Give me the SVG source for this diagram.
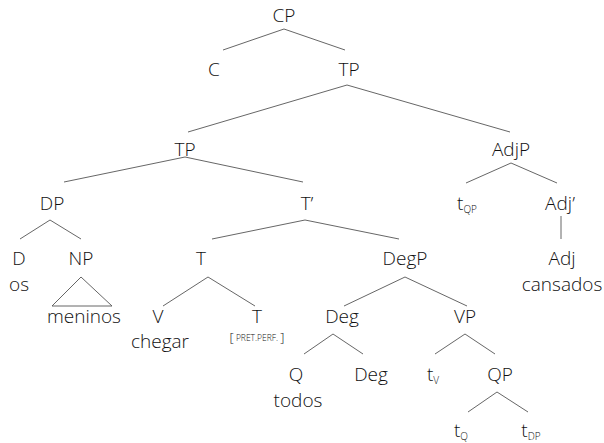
<svg xmlns="http://www.w3.org/2000/svg" width="604" height="443" viewBox="0 0 604 443">
<style>
text{font-family:"Open Sans","Noto Sans","Liberation Sans",sans-serif;font-size:19px;font-weight:300;fill:#111;text-anchor:middle}
.sub{font-size:10px}
.sc{font-size:8.5px}
.br{font-size:13px}
#edges polyline,#edges polygon,#edges line{stroke:#555;stroke-width:0.9;fill:none}
</style>
<rect width="604" height="443" fill="#fff"/>
<g id="edges">
<polyline points="223,50 284,29 345,50"/>
<polyline points="188,132 347,85 510,132"/>
<polyline points="64,182 185,157 303,182"/>
<polyline points="466,183 511,163 557,183"/>
<polyline points="20,239 50,220 81,239"/>
<polyline points="212,239 305,220 399,239"/>
<line x1="561" y1="216" x2="561" y2="239"/>
<polygon points="52,306 81,277 112,306"/>
<polyline points="163,306 208,277 255,306"/>
<polyline points="344,306 405,277 467,306"/>
<polyline points="304,354 333,334 363,354"/>
<polyline points="435,354 465,334 495,354"/>
<polyline points="468,412 497,392 528,412"/>
</g>
<g id="n-CP"><text x="284" y="22">CP</text></g>
<g id="n-C"><text x="214" y="76">C</text></g>
<g id="n-TP1"><text x="349" y="76">TP</text></g>
<g id="n-TP2"><text x="185" y="156">TP</text></g>
<g id="n-AdjP"><text x="511" y="156">AdjP</text></g>
<g id="n-DP"><text x="52" y="210">DP</text></g>
<g id="n-Tbar"><text x="307" y="210">T’</text></g>
<g id="n-tQP"><text x="467" y="210">t<tspan class="sub" dy="3">QP</tspan></text></g>
<g id="n-Adjbar"><text x="560" y="210">Adj’</text></g>
<g id="n-D"><text x="19" y="265">D</text><text x="19" y="291">os</text></g>
<g id="n-NP"><text x="81" y="265">NP</text><text x="84" y="323">meninos</text></g>
<g id="n-T"><text x="201" y="265">T</text></g>
<g id="n-DegP"><text x="405" y="265">DegP</text></g>
<g id="n-Adj"><text x="562" y="265">Adj</text><text x="562" y="291">cansados</text></g>
<g id="n-V"><text x="158" y="323">V</text><text x="160" y="348">chegar</text></g>
<g id="n-T2"><text x="257" y="323">T</text><text x="257" y="342"><tspan class="br">[</tspan><tspan class="sc" dy="-1"> PRET.PERF. </tspan><tspan class="br" dy="1">]</tspan></text></g>
<g id="n-Deg"><text x="342" y="323">Deg</text></g>
<g id="n-VP"><text x="465" y="323">VP</text></g>
<g id="n-Q"><text x="296" y="381">Q</text><text x="298" y="407">todos</text></g>
<g id="n-Deg2"><text x="371" y="381">Deg</text></g>
<g id="n-tV"><text x="433" y="381">t<tspan class="sub" dy="3">V</tspan></text></g>
<g id="n-QP"><text x="500" y="381">QP</text></g>
<g id="n-tQ"><text x="461" y="437">t<tspan class="sub" dy="3">Q</tspan></text></g>
<g id="n-tDP"><text x="531" y="437">t<tspan class="sub" dy="3">DP</tspan></text></g>
</svg>
